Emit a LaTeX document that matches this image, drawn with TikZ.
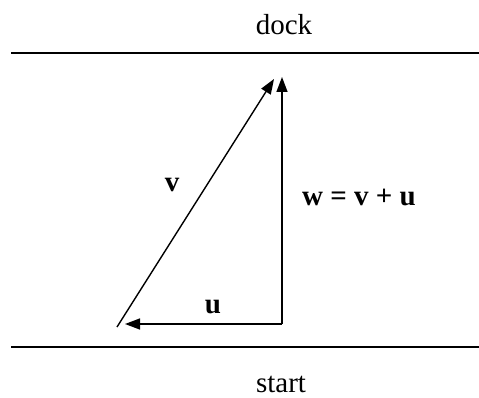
\documentclass[tikz,border=0pt]{standalone}
\usepackage{fontspec}
\setmainfont{Liberation Serif}
\usetikzlibrary{arrows.meta}
\begin{document}
\begin{tikzpicture}[x=1pt,y=-1pt,
  bank/.style={line width=2pt},
  vec/.style={line width=1.4pt,-{Triangle[length=15pt,width=11pt]}},
  lbl/.style={font=\fontsize{29}{34}\selectfont,anchor=base,inner sep=0pt},
  blbl/.style={font=\fontsize{29}{34}\selectfont\bfseries,anchor=base,inner sep=0pt}]
\useasboundingbox (0,0) rectangle (479,398);
% banks
\coordinate (L1a) at (11,53);
\coordinate (L1b) at (479,53);
\coordinate (L2a) at (11,347);
\coordinate (L2b) at (479,347);
\draw[bank] (L1a) -- (L1b);
\draw[bank] (L2a) -- (L2b);
% labels
\node[lbl] (dock) at (284,35) {dock};
\node[lbl] (start) at (281,392) {start};
% vectors
\coordinate (A) at (117,327);
\coordinate (Tv) at (274,79);
\coordinate (B) at (282,324);
\coordinate (T) at (282,77);
\coordinate (U) at (125,324);
\draw[vec] (A) -- (Tv);
\draw[vec] (B) -- (T);
\draw[vec] (B) -- (U);
\node[blbl] (vl) at (172,192) {v};
\node[blbl] (ul) at (213,313) {u};
\node[blbl] (wl) at (359,205) {w = v + u};
\end{tikzpicture}
\end{document}
